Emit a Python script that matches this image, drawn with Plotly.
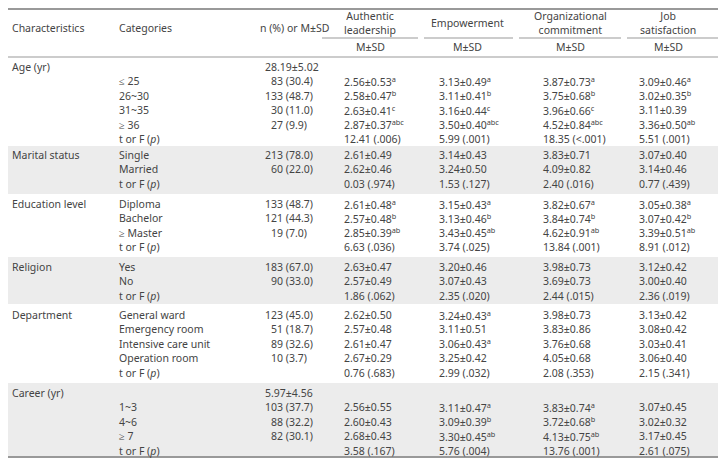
import plotly.graph_objects as go

# ---- data ----
groups = ["Age (yr)", "Marital status", "Education level", "Religion", "Department", "Career (yr)"]
group_summary = ["28.19±5.02", None, None, None, None, "5.97±4.56"]
categories = [
    ["≤ 25", "26~30", "31~35", "≥ 36"],
    ["Single", "Married"],
    ["Diploma", "Bachelor", "≥ Master"],
    ["Yes", "No"],
    ["General ward", "Emergency room", "Intensive care unit", "Operation room"],
    ["1~3", "4~6", "≥ 7"],
]
n_pct = [
    ["83 (30.4)", "133 (48.7)", "30 (11.0)", "27 (9.9)"],
    ["213 (78.0)", "60 (22.0)"],
    ["133 (48.7)", "121 (44.3)", "19 (7.0)"],
    ["183 (67.0)", "90 (33.0)"],
    ["123 (45.0)", "51 (18.7)", "89 (32.6)", "10 (3.7)"],
    ["103 (37.7)", "88 (32.2)", "82 (30.1)"],
]
authentic = [
    ["2.56±0.53<sup>a</sup>", "2.58±0.47<sup>b</sup>", "2.63±0.41<sup>c</sup>", "2.87±0.37<sup>abc</sup>", "12.41 (.006)"],
    ["2.61±0.49", "2.62±0.46", "0.03 (.974)"],
    ["2.61±0.48<sup>a</sup>", "2.57±0.48<sup>b</sup>", "2.85±0.39<sup>ab</sup>", "6.63 (.036)"],
    ["2.63±0.47", "2.57±0.49", "1.86 (.062)"],
    ["2.62±0.50", "2.57±0.48", "2.61±0.47", "2.67±0.29", "0.76 (.683)"],
    ["2.56±0.55", "2.60±0.43", "2.68±0.43", "3.58 (.167)"],
]
empowerment = [
    ["3.13±0.49<sup>a</sup>", "3.11±0.41<sup>b</sup>", "3.16±0.44<sup>c</sup>", "3.50±0.40<sup>abc</sup>", "5.99 (.001)"],
    ["3.14±0.43", "3.24±0.50", "1.53 (.127)"],
    ["3.15±0.43<sup>a</sup>", "3.13±0.46<sup>b</sup>", "3.43±0.45<sup>ab</sup>", "3.74 (.025)"],
    ["3.20±0.46", "3.07±0.43", "2.35 (.020)"],
    ["3.24±0.43<sup>a</sup>", "3.11±0.51", "3.06±0.43<sup>a</sup>", "3.25±0.42", "2.99 (.032)"],
    ["3.11±0.47<sup>a</sup>", "3.09±0.39<sup>b</sup>", "3.30±0.45<sup>ab</sup>", "5.76 (.004)"],
]
commitment = [
    ["3.87±0.73<sup>a</sup>", "3.75±0.68<sup>b</sup>", "3.96±0.66<sup>c</sup>", "4.52±0.84<sup>abc</sup>", "18.35 (<.001)"],
    ["3.83±0.71", "4.09±0.82", "2.40 (.016)"],
    ["3.82±0.67<sup>a</sup>", "3.84±0.74<sup>b</sup>", "4.62±0.91<sup>ab</sup>", "13.84 (.001)"],
    ["3.98±0.73", "3.69±0.73", "2.44 (.015)"],
    ["3.98±0.73", "3.83±0.86", "3.76±0.68", "4.05±0.68", "2.08 (.353)"],
    ["3.83±0.74<sup>a</sup>", "3.72±0.68<sup>b</sup>", "4.13±0.75<sup>ab</sup>", "13.76 (.001)"],
]
satisfaction = [
    ["3.09±0.46<sup>a</sup>", "3.02±0.35<sup>b</sup>", "3.11±0.39", "3.36±0.50<sup>ab</sup>", "5.51 (.001)"],
    ["3.07±0.40", "3.14±0.46", "0.77 (.439)"],
    ["3.05±0.38<sup>a</sup>", "3.07±0.42<sup>b</sup>", "3.39±0.51<sup>ab</sup>", "8.91 (.012)"],
    ["3.12±0.42", "3.00±0.40", "2.36 (.019)"],
    ["3.13±0.42", "3.08±0.42", "3.03±0.41", "3.06±0.40", "2.15 (.341)"],
    ["3.07±0.45", "3.02±0.32", "3.17±0.45", "2.61 (.075)"],
]
measure_headers = ["Authentic<br>leadership", "Empowerment", "Organizational<br>commitment", "Job<br>satisfaction"]

# ---- layout constants (page has an 8px body margin; coordinates are window pixels) ----
W, H = 726, 460
OFF = 8
FONT = "Noto Sans"
FS = 10.5
COL = "#444444"
group_start = [67, 155, 204, 267, 315, 393]
pitch = 14.4
x_char, x_cat, x_n = 10, 117, 263
x_meas = [342, 437, 541, 637]
meas_center = [370, 467, 570, 668]
meas_span = [(322, 418), (424, 513), (519, 621), (627, 718)]
bands = [(1, 146, 194), (3, 257, 304), (5, 383, 457)]

fig = go.Figure()
shapes = []
ann = []

def txt(x, y, s, anchor="left", size=FS):
    ann.append(dict(x=x, y=y, text=s, showarrow=False, xanchor=anchor, yanchor="middle",
                    font=dict(family=FONT, size=size, color=COL), xref="x", yref="y"))

for gi, y0, y1 in bands:
    shapes.append(dict(type="rect", x0=0, x1=W, y0=y0, y1=y1, fillcolor="#ececec", line_width=0, layer="below"))

shapes.append(dict(type="line", x0=0, x1=W, y0=9, y1=9, line=dict(color="#999999", width=2)))
shapes.append(dict(type="line", x0=0, x1=W, y0=57, y1=57, line=dict(color="#999999", width=1.2)))
shapes.append(dict(type="line", x0=0, x1=W, y0=457, y1=457, line=dict(color="#999999", width=2)))
for a, b in meas_span:
    shapes.append(dict(type="line", x0=a, x1=b, y0=38, y1=38, line=dict(color="#999999", width=1)))

txt(x_char, 28, "Characteristics")
txt(x_cat, 28, "Categories")
txt(258, 28, "n (%) or M±SD")
for h, c in zip(measure_headers, meas_center):
    txt(c, 23, h, anchor="center")
    txt(c, 47, "M±SD", anchor="center")

for gi, g in enumerate(groups):
    y = group_start[gi]
    txt(x_char, y, g)
    if group_summary[gi]:
        txt(x_n, y, group_summary[gi])
        y += pitch
    rows = categories[gi] + ["t or F (<i>p</i>)"]
    ns = n_pct[gi] + [""]
    cols = [authentic[gi], empowerment[gi], commitment[gi], satisfaction[gi]]
    for ri, cat in enumerate(rows):
        yy = y + ri * pitch
        txt(x_cat, yy, cat)
        if ns[ri]:
            s = ns[ri]
            if len(s.split(" ")[0]) == 2:
                s = "\u2007" + s
            txt(x_n, yy, s)
        for ci, colvals in enumerate(cols):
            txt(x_meas[ci], yy, colvals[ri])

fig.update_layout(
    width=W - OFF, height=H - OFF, margin=dict(l=0, r=0, t=0, b=0),
    paper_bgcolor="white", plot_bgcolor="white",
    xaxis=dict(range=[OFF, W], visible=False, fixedrange=True),
    yaxis=dict(range=[H, OFF], visible=False, fixedrange=True),
    shapes=shapes, annotations=ann, showlegend=False,
)
fig.write_html("out.html")
